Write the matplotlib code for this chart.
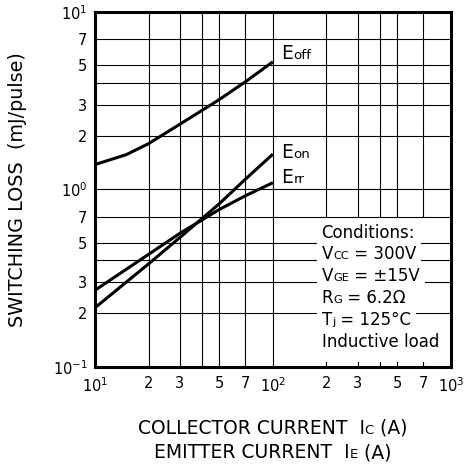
import numpy as np
import matplotlib
matplotlib.use("Agg")
import matplotlib.pyplot as plt
from matplotlib.ticker import FixedLocator, NullFormatter
from matplotlib.offsetbox import TextArea, HPacker, AnnotationBbox
from matplotlib.patches import Rectangle

FONT = "DejaVu Sans"
plt.rcParams["font.family"] = FONT
plt.rcParams["mathtext.fontset"] = "dejavusans"
plt.rcParams["mathtext.default"] = "regular"

# ==============================================================================
# DATA
# ==============================================================================
ic_eoff = [10, 15, 20, 30, 40, 50, 70, 100]
eoff    = [1.38, 1.57, 1.81, 2.33, 2.79, 3.21, 4.04, 5.24]

ic_eon  = [10, 20, 30, 50, 70, 100]
eon     = [0.215, 0.38, 0.535, 0.83, 1.14, 1.58]

ic_err  = [10, 20, 30, 50, 70, 100]
err     = [0.27, 0.43, 0.565, 0.77, 0.92, 1.09]

x_ticks  = [10, 20, 30, 50, 70, 100, 200, 300, 500, 700, 1000]
x_labels = ["$10^{1}$", "2", "3", "5", "7", "$10^{2}$", "2", "3", "5", "7", "$10^{3}$"]
y_ticks  = [0.1, 0.2, 0.3, 0.5, 0.7, 1, 2, 3, 5, 7, 10]
y_labels = ["$10^{-1}$", "2", "3", "5", "7", "$10^{0}$", "2", "3", "5", "7", "$10^{1}$"]
minor_x  = [40, 400]
minor_y  = [0.4, 4]

conditions = [
    [("Conditions:", 12)],
    [("V", 12), ("CC", 8.2), (" = 300V", 12)],
    [("V", 12), ("GE", 8.2), (" = \u00b115V", 12)],
    [("R", 12), ("G", 8.2), (" = 6.2\u03a9", 12)],
    [("T", 12), ("j", 8.2), (" = 125\u00b0C", 12)],
    [("Inductive load", 12)],
]


def mixed(ax, xy, parts, coords="data", align=(0, 0.5), bg=False, pad=0.36):
    areas = [TextArea(s, textprops=dict(fontsize=fs, family=FONT, color="black"))
             for s, fs in parts]
    box = HPacker(children=areas, align="baseline", pad=0, sep=0)
    ab = AnnotationBbox(box, xy, xycoords=coords, box_alignment=align,
                        frameon=bg, pad=pad,
                        bboxprops=dict(boxstyle="square,pad=%g" % pad, fc="white", ec="none"))
    ab.set_zorder(5)
    ax.add_artist(ab)
    return ab


# ==============================================================================
# FIGURE
# ==============================================================================
fig = plt.figure(figsize=(4.69, 4.66), dpi=100)
ax = fig.add_axes([0.2026, 0.2131, 0.7584, 0.7611])

ax.plot(ic_eoff, eoff, color="black", lw=2.2, solid_capstyle="butt", zorder=4)
ax.plot(ic_eon, eon, color="black", lw=2.2, solid_capstyle="butt", zorder=4)
ax.plot(ic_err, err, color="black", lw=2.2, solid_capstyle="butt", zorder=4)

ax.set_xscale("log")
ax.set_yscale("log")
ax.set_xlim(10, 1000)
ax.set_ylim(0.1, 10)

ax.xaxis.set_major_locator(FixedLocator(x_ticks))
ax.set_xticklabels(x_labels)
ax.xaxis.set_minor_locator(FixedLocator(minor_x))
ax.xaxis.set_minor_formatter(NullFormatter())
ax.yaxis.set_major_locator(FixedLocator(y_ticks))
ax.set_yticklabels(y_labels)
ax.yaxis.set_minor_locator(FixedLocator(minor_y))
ax.yaxis.set_minor_formatter(NullFormatter())

ax.tick_params(which="both", length=0, labelsize=10.5)
ax.tick_params(axis="x", pad=7)
ax.tick_params(axis="y", pad=5.5)
ax.grid(True, which="both", color="black", lw=0.8)
# vertical grid under the white conditions panel, horizontal grid above it
ax.xaxis.set_zorder(0.5)
ax.yaxis.set_zorder(1.5)
ax.add_patch(Rectangle((0.62, 0.012), 0.38, 0.41, transform=ax.transAxes,
                       fc="white", ec="none", zorder=1))
for s in ax.spines.values():
    s.set_linewidth(2.2)
    s.set_zorder(6)

# curve labels
mixed(ax, (112, 5.8), [("E", 13.5), ("off", 9.6)])
mixed(ax, (112, 1.62), [("E", 13.5), ("on", 9.6)])
mixed(ax, (112, 1.16), [("E", 13.5), ("rr", 9.6)])

# conditions block
cond_y = [0.378, 0.318, 0.256, 0.194, 0.131, 0.070]
for parts, yy in zip(conditions, cond_y):
    mixed(ax, (0.637, yy), parts, coords="axes fraction", bg=True)

# axis titles
fig.text(0.038, 0.593, "SWITCHING LOSS  (mJ/pulse)", rotation=90,
         ha="center", va="center", fontsize=13.8)
mixed(fig, (0.581, 0.0815), [("COLLECTOR CURRENT  I", 13.5), ("C", 9.5), (" (A)", 13.5)],
      coords="figure fraction", align=(0.5, 0.5))
mixed(fig, (0.581, 0.0279), [("EMITTER CURRENT  I", 13.5), ("E", 9.5), (" (A)", 13.5)],
      coords="figure fraction", align=(0.5, 0.5))

fig.savefig("out.png", dpi=100)
